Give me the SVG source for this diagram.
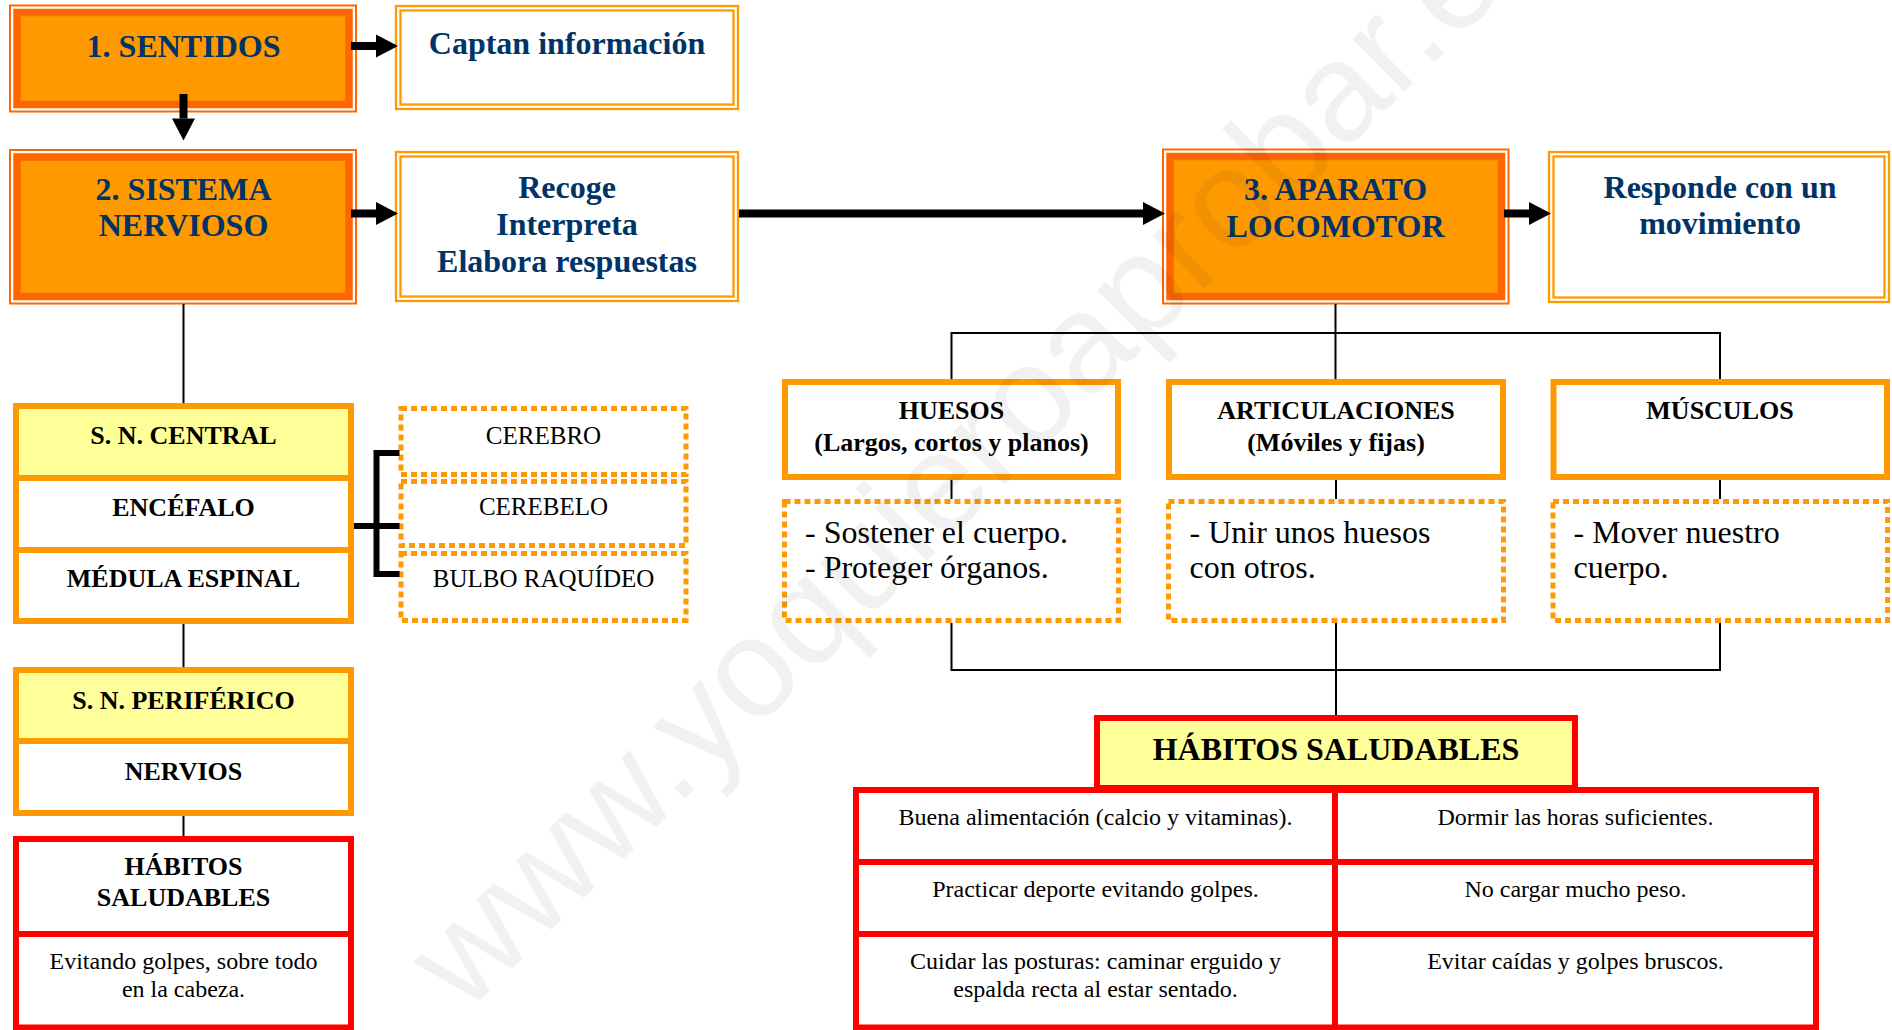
<svg xmlns="http://www.w3.org/2000/svg" width="1892" height="1030" viewBox="0 0 1892 1030">
<style>
.nav{font-family:"Liberation Serif","Times New Roman",serif;font-weight:bold;fill:#003366;font-size:32px;text-anchor:middle}
.bk{font-family:"Liberation Serif","Times New Roman",serif;fill:#000}
.b26{font-weight:bold;font-size:26px;text-anchor:middle}
.b32{font-weight:bold;font-size:32px;text-anchor:middle}
.r25{font-size:25px;text-anchor:middle}
.r32{font-size:32px}
.r24{font-size:24px;text-anchor:middle}
.oOuter{fill:#fff;stroke:#FF6600;stroke-width:2}
.oBand{fill:#FF9900;stroke:#FF6600;stroke-width:7.5}
.dbl{fill:#fff;stroke:#FF9900;stroke-width:2.3}
.dblIn{fill:none;stroke:#FF9900;stroke-width:2.3}
.ob{fill:#fff;stroke:#FF9900;stroke-width:6}
.obl{fill:none;stroke:#FF9900;stroke-width:6}
.dot{fill:#fff;stroke:#FF9900;stroke-width:5;stroke-dasharray:6 4}
.rb{fill:#fff;stroke:#FF0000;stroke-width:6}
.rbl{fill:none;stroke:#FF0000;stroke-width:6}
.yl{fill:#FFFF99}
.ln{stroke:#000;stroke-width:2;fill:none}
.arr{stroke:#000;stroke-width:8;fill:none;marker-end:url(#ah)}
.brk{stroke:#000;stroke-width:6;fill:none}
.wm{font-family:"Liberation Sans",Arial,sans-serif;font-size:140px;fill:#000;fill-opacity:0.055}
</style>
<defs>
<marker id="ah" markerUnits="userSpaceOnUse" markerWidth="23" markerHeight="23" refX="0" refY="11.5" orient="auto" overflow="visible">
<path d="M0,0 L22,11.5 L0,23 Z" fill="#000"/>
</marker>
</defs>
<rect width="1892" height="1030" fill="#fff"/>

<g id="sentidos">
<rect class="oOuter" x="10" y="5.5" width="346" height="106"/>
<rect class="oBand" x="17" y="12.5" width="332" height="92"/>
<text class="nav" x="183.5" y="57">1. SENTIDOS</text>
</g>
<g id="captan">
<rect class="dbl" x="396" y="6" width="342" height="103"/>
<rect class="dblIn" x="400.5" y="10.5" width="333" height="94"/>
<text class="nav" x="567" y="54">Captan información</text>
</g>
<g id="sistema">
<rect class="oOuter" x="10" y="150" width="346" height="153.5"/>
<rect class="oBand" x="17" y="157" width="332" height="139.5"/>
<text class="nav" x="183.5" y="200">2. SISTEMA</text>
<text class="nav" x="183.5" y="236">NERVIOSO</text>
</g>
<g id="recoge">
<rect class="dbl" x="396" y="152" width="342" height="149"/>
<rect class="dblIn" x="400.5" y="156.5" width="333" height="140"/>
<text class="nav" x="567" y="197.5">Recoge</text>
<text class="nav" x="567" y="234.5">Interpreta</text>
<text class="nav" x="567" y="271.5">Elabora respuestas</text>
</g>
<g id="aparato">
<rect class="oOuter" x="1163" y="149.5" width="345.5" height="154"/>
<rect class="oBand" x="1170" y="156.5" width="331.5" height="140"/>
<text class="nav" x="1335.5" y="199.5">3. APARATO</text>
<text class="nav" x="1335.5" y="236.5">LOCOMOTOR</text>
</g>
<g id="responde">
<rect class="dbl" x="1549" y="152" width="340" height="150"/>
<rect class="dblIn" x="1553.5" y="156.5" width="331" height="141"/>
<text class="nav" x="1720" y="197.5">Responde con un</text>
<text class="nav" x="1720" y="234">movimiento</text>
</g>

<g id="sn-central">
<rect class="ob" x="16" y="406" width="335" height="215"/>
<rect class="yl" x="19" y="409" width="329" height="69"/>
<rect class="obl" x="16" y="406" width="335" height="215"/>
<path class="obl" d="M13,478 H354 M13,550 H354"/>
<text class="bk b26" x="183.5" y="443.5">S. N. CENTRAL</text>
<text class="bk b26" x="183.5" y="515.5">ENCÉFALO</text>
<text class="bk b26" x="183.5" y="587">MÉDULA ESPINAL</text>
</g>
<g id="cerebro">
<rect class="dot" x="401" y="408.5" width="285" height="66"/>
<text class="bk r25" x="543.5" y="443.5">CEREBRO</text>
</g>
<g id="cerebelo">
<rect class="dot" x="401" y="481.5" width="285" height="64"/>
<text class="bk r25" x="543.5" y="515">CEREBELO</text>
</g>
<g id="bulbo">
<rect class="dot" x="401" y="553.5" width="285" height="67"/>
<text class="bk r25" x="543.5" y="587">BULBO RAQUÍDEO</text>
</g>
<g id="sn-periferico">
<rect class="ob" x="16" y="670" width="335" height="143"/>
<rect class="yl" x="19" y="673" width="329" height="68"/>
<rect class="obl" x="16" y="670" width="335" height="143"/>
<path class="obl" d="M13,741 H354"/>
<text class="bk b26" x="183.5" y="708.5">S. N. PERIFÉRICO</text>
<text class="bk b26" x="183.5" y="780">NERVIOS</text>
</g>
<g id="habitos-sn">
<rect class="rb" x="16" y="839" width="335" height="188.5"/>
<path class="rbl" d="M13,934 H354"/>
<text class="bk b26" x="183.5" y="875">HÁBITOS</text>
<text class="bk b26" x="183.5" y="906">SALUDABLES</text>
<text class="bk r24" x="183.5" y="969">Evitando golpes, sobre todo</text>
<text class="bk r24" x="183.5" y="997">en la cabeza.</text>
</g>

<g id="huesos">
<rect class="ob" x="785" y="382" width="333" height="95"/>
<text class="bk b26" x="951.5" y="419">HUESOS</text>
<text class="bk b26" x="951.5" y="451">(Largos, cortos y planos)</text>
</g>
<g id="articulaciones">
<rect class="ob" x="1169" y="382" width="334" height="95"/>
<text class="bk b26" x="1336" y="419">ARTICULACIONES</text>
<text class="bk b26" x="1336" y="451">(Móviles y fijas)</text>
</g>
<g id="musculos">
<rect class="ob" x="1553.5" y="382" width="333.5" height="95"/>
<text class="bk b26" x="1720" y="419">MÚSCULOS</text>
</g>
<g id="huesos-fn">
<rect class="dot" x="784.5" y="501.5" width="334" height="119"/>
<text class="bk r32" x="805" y="542.5">- Sostener el cuerpo.</text>
<text class="bk r32" x="805" y="578">- Proteger órganos.</text>
</g>
<g id="articulaciones-fn">
<rect class="dot" x="1168.5" y="501.5" width="335" height="119"/>
<text class="bk r32" x="1189.5" y="542.5">- Unir unos huesos</text>
<text class="bk r32" x="1189.5" y="578">con otros.</text>
</g>
<g id="musculos-fn">
<rect class="dot" x="1553" y="501.5" width="334.5" height="119"/>
<text class="bk r32" x="1573.5" y="542.5">- Mover nuestro</text>
<text class="bk r32" x="1573.5" y="578">cuerpo.</text>
</g>

<g id="habitos-header">
<rect class="rb" x="1097" y="718" width="478" height="70" style="fill:#FFFF99"/>
<text class="bk b32" x="1336" y="760">HÁBITOS SALUDABLES</text>
</g>
<g id="habitos-table">
<rect class="rb" x="856" y="790" width="960" height="237.5"/>
<path class="rbl" d="M853,862 H1819 M853,934 H1819 M1335,787 V1030"/>
<text class="bk r24" x="1095.5" y="825">Buena alimentación (calcio y vitaminas).</text>
<text class="bk r24" x="1575.5" y="825">Dormir las horas suficientes.</text>
<text class="bk r24" x="1095.5" y="897">Practicar deporte evitando golpes.</text>
<text class="bk r24" x="1575.5" y="897">No cargar mucho peso.</text>
<text class="bk r24" x="1095.5" y="969">Cuidar las posturas: caminar erguido y</text>
<text class="bk r24" x="1095.5" y="997">espalda recta al estar sentado.</text>
<text class="bk r24" x="1575.5" y="969">Evitar caídas y golpes bruscos.</text>
</g>

<g id="connectors">
<line class="arr" x1="351" y1="46" x2="376" y2="46"/>
<line class="arr" x1="183.5" y1="94" x2="183.5" y2="118.5"/>
<line class="arr" x1="351" y1="213.5" x2="376" y2="213.5"/>
<line class="arr" x1="739" y1="213.5" x2="1143" y2="213.5"/>
<line class="arr" x1="1504" y1="213.5" x2="1529" y2="213.5"/>
<path class="ln" d="M183.5,304 V403 M183.5,624 V667 M183.5,816 V836"/>
<path class="brk" d="M399.5,453 H376.5 V574 H399.5 M354,526 H399.5"/>
<path class="ln" d="M1335.5,304 V379 M951.5,379 V333 H1720 V379"/>
<path class="ln" d="M951.5,480 V499 M1336,480 V499 M1720,480 V499"/>
<path class="ln" d="M951.5,623 V670 H1720 V623 M1336,623 V715"/>
</g>

<g id="watermark">
<text class="wm" x="465" y="1015" transform="rotate(-44.5 465 1015)">www.yoquieroaprobar.es</text>
</g>
</svg>
